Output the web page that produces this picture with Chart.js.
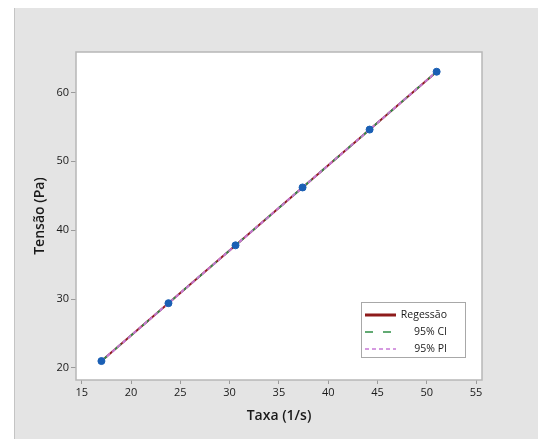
<!DOCTYPE html>
<html>
<head>
<meta charset="utf-8">
<script src="https://cdn.jsdelivr.net/npm/chart.js@4.4.1/dist/chart.umd.min.js"></script>
<style>
  html, body { margin: 0; padding: 0; background: #fff; }
  #wrap { width: 538px; height: 439px; position: relative; }
</style>
</head>
<body>
<div id="wrap"><canvas id="fitChart"></canvas></div>
<script>
(function () {
  'use strict';

  // Observed points (shear rate vs stress)
  const taxa = [17, 23.8, 30.6, 37.4, 44.2, 51];
  const tensao = [21, 29.4, 37.8, 46.2, 54.6, 63];

  // Fitted line and bands, read at the ends of the range
  const fitX = [17, 51];
  const fitY = [21.0, 63.0];
  const ciLower = [20.95, 62.95];
  const ciUpper = [21.05, 63.05];
  const piLower = [20.92, 62.92];
  const piUpper = [21.08, 63.08];

  // Tick labels
  const xTicks = [15, 20, 25, 30, 35, 40, 45, 50, 55];
  const yTicks = [20, 30, 40, 50, 60];

  const legendLabels = ['Regessão', '95% CI', '95% PI'];

  const colors = {
    fit: '#8e1b1b',
    ci: '#2f8f46',
    pi: '#c77ad6',
    point: '#1a5fb4',
    panel: '#e4e4e4',
    frame: '#b7b7b7',
    tick: '#9a9a9a',
    text: '#1a1a1a',
  };

  const FONT = "'Open Sans', 'Noto Sans', sans-serif";

  function pts(xs, ys) {
    return xs.map(function (x, i) { return { x: x, y: ys[i] }; });
  }

  function lineSet(label, data, color, width, dash, order) {
    return {
      label: label,
      data: data,
      showLine: true,
      borderColor: color,
      backgroundColor: color,
      borderWidth: width,
      borderDash: dash,
      pointRadius: 0,
      pointHoverRadius: 0,
      order: order,
    };
  }

  // Grey panel, white plot area and its frame
  const panelPlugin = {
    id: 'panel',
    beforeDraw: function (chart) {
      const ctx = chart.ctx;
      const a = chart.chartArea;
      ctx.save();
      ctx.fillStyle = '#fff';
      ctx.fillRect(0, 0, chart.width, chart.height);
      ctx.fillStyle = colors.panel;
      ctx.fillRect(14, 8, chart.width - 14, chart.height - 8);
      ctx.strokeStyle = '#c4c4c4';
      ctx.lineWidth = 1;
      ctx.beginPath();
      ctx.moveTo(14.5, 8);
      ctx.lineTo(14.5, chart.height);
      ctx.stroke();
      ctx.fillStyle = '#fff';
      ctx.fillRect(a.left, a.top, a.right - a.left, a.bottom - a.top);
      ctx.restore();
    },
    beforeDatasetsDraw: function (chart) {
      const ctx = chart.ctx;
      const a = chart.chartArea;
      ctx.save();
      ctx.strokeStyle = colors.frame;
      ctx.lineWidth = 1.5;
      ctx.strokeRect(a.left, a.top, a.right - a.left, a.bottom - a.top);
      ctx.restore();
    },
  };

  // Boxed legend in the lower right of the plot area
  const legendPlugin = {
    id: 'boxLegend',
    afterDraw: function (chart) {
      const ctx = chart.ctx;
      const box = { x: 361.5, y: 302.5, w: 104, h: 55 };
      const samples = [
        { color: colors.fit, width: 3, dash: [] },
        { color: colors.ci, width: 1.5, dash: [8, 10] },
        { color: colors.pi, width: 1.5, dash: [4, 3] },
      ];
      ctx.save();
      ctx.fillStyle = '#fff';
      ctx.fillRect(box.x, box.y, box.w, box.h);
      ctx.strokeStyle = '#a8a8a8';
      ctx.lineWidth = 1;
      ctx.strokeRect(box.x, box.y, box.w, box.h);
      ctx.font = '10.5px ' + FONT;
      ctx.fillStyle = colors.text;
      ctx.textAlign = 'right';
      ctx.textBaseline = 'middle';
      legendLabels.forEach(function (lbl, i) {
        const y = 315 + i * 17;
        const s = samples[i];
        ctx.strokeStyle = s.color;
        ctx.lineWidth = s.width;
        ctx.setLineDash(s.dash);
        ctx.beginPath();
        ctx.moveTo(365, y);
        ctx.lineTo(396, y);
        ctx.stroke();
        ctx.setLineDash([]);
        ctx.fillText(lbl, 447, y);
      });
      ctx.restore();
    },
  };

  function initChart() {
    const el = document.getElementById('fitChart');

    new Chart(el, {
      type: 'scatter',
      data: {
        datasets: [
          {
            label: 'Dados',
            data: pts(taxa, tensao),
            backgroundColor: colors.point,
            borderColor: colors.point,
            pointRadius: 3.5,
            pointHoverRadius: 3.5,
            order: 0,
          },
          lineSet('95% PI low', pts(fitX, piLower), colors.pi, 1.2, [4, 3], 1),
          lineSet('95% PI high', pts(fitX, piUpper), colors.pi, 1.2, [4, 3], 1),
          lineSet('95% CI low', pts(fitX, ciLower), colors.ci, 1.2, [8, 10], 2),
          lineSet('95% CI high', pts(fitX, ciUpper), colors.ci, 1.2, [8, 10], 2),
          lineSet('Regessão', pts(fitX, fitY), colors.fit, 2, [], 3),
        ],
      },
      options: {
        responsive: true,
        maintainAspectRatio: false,
        animation: false,
        events: [],
        layout: { padding: { left: 14, top: 52, right: 56, bottom: 0 } },
        plugins: {
          legend: { display: false },
          tooltip: { enabled: false },
        },
        scales: {
          x: {
            type: 'linear',
            min: 14.42,
            max: 55.6,
            afterBuildTicks: function (scale) {
              scale.ticks = xTicks.map(function (v) { return { value: v }; });
            },
            afterFit: function (scale) { scale.height = 59; },
            border: { display: false },
            grid: {
              drawOnChartArea: false,
              drawTicks: true,
              tickLength: 4,
              color: colors.tick,
            },
            ticks: {
              autoSkip: false,
              maxRotation: 0,
              padding: 2,
              color: colors.text,
              font: { family: FONT, size: 11 },
            },
            title: {
              display: true,
              text: 'Taxa (1/s)',
              color: colors.text,
              font: { family: FONT, size: 14, weight: '600' },
              padding: { top: 0, bottom: 15 },
            },
          },
          y: {
            type: 'linear',
            min: 18.25,
            max: 65.86,
            afterBuildTicks: function (scale) {
              scale.ticks = yTicks.map(function (v) { return { value: v }; });
            },
            afterFit: function (scale) { scale.width = 62; },
            border: { display: false },
            grid: {
              drawOnChartArea: false,
              drawTicks: true,
              tickLength: 5,
              color: colors.tick,
            },
            ticks: {
              autoSkip: false,
              padding: 2,
              color: colors.text,
              font: { family: FONT, size: 11 },
            },
            title: {
              display: true,
              text: 'Tensão (Pa)',
              color: colors.text,
              font: { family: FONT, size: 14, weight: '600' },
              padding: { top: 18, bottom: 0 },
            },
          },
        },
      },
      plugins: [panelPlugin, legendPlugin],
    });
  }

  initChart();
})();
</script>
</body>
</html>
